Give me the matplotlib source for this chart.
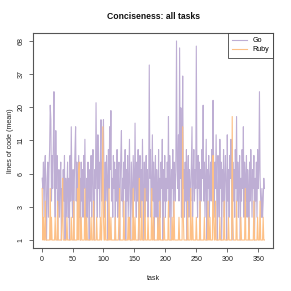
import numpy as np
import matplotlib
matplotlib.use("Agg")
import matplotlib.pyplot as plt

plt.rcParams['font.family'] = ['Liberation Sans', 'DejaVu Sans']

title = "Conciseness: all tasks"
xlabel = "task"
ylabel = "lines of code (mean)"
series_names = ["Go", "Ruby"]
colors = ["#BEAED4", "#FDC086"]
x_ticks = [0, 50, 100, 150, 200, 250, 300, 350]

go = [
    5, 4, 7, 2, 6, 8, 3, 1, 5, 7,
    2, 6, 9, 21, 16, 3, 8, 4, 10, 27,
    5, 2, 13, 4, 8, 1, 3, 6, 2, 5,
    7, 1, 4, 2, 6, 3, 8, 1, 5, 2,
    4, 7, 2, 5, 1, 8, 3, 14, 4, 2,
    6, 1, 5, 9, 14, 3, 7, 2, 4, 8,
    2, 5, 1, 7, 3, 6, 2, 8, 4, 11,
    3, 1, 5, 2, 7, 4, 1, 6, 3, 8,
    2, 5, 9, 3, 1, 6, 4, 22, 5, 2,
    12, 4, 7, 2, 8, 16, 3, 6, 9, 16,
    4, 2, 7, 3, 8, 5, 1, 9, 4, 14,
    6, 19, 3, 5, 2, 8, 4, 7, 1, 6,
    3, 9, 2, 5, 7, 1, 4, 8, 13, 3,
    5, 2, 7, 4, 9, 1, 6, 3, 8, 2,
    5, 11, 3, 1, 7, 4, 2, 8, 5, 3,
    15, 4, 2, 7, 3, 9, 1, 5, 8, 2,
    6, 3, 11, 4, 1, 7, 2, 5, 8, 3,
    6, 2, 4, 44, 5, 9, 2, 4, 12, 3,
    7, 1, 5, 8, 2, 6, 4, 1, 9, 3,
    5, 2, 7, 4, 11, 1, 6, 3, 8, 2,
    5, 3, 7, 4, 17, 2, 8, 5, 1, 6,
    4, 9, 2, 7, 5, 3, 8, 68, 6, 4,
    12, 3, 60, 5, 20, 2, 8, 36, 4, 6,
    2, 7, 3, 9, 1, 5, 8, 2, 6, 4,
    3, 7, 14, 2, 5, 9, 3, 6, 4, 62,
    5, 2, 8, 4, 7, 1, 6, 3, 9, 5,
    21, 3, 7, 2, 5, 11, 1, 6, 4, 8,
    2, 5, 7, 3, 9, 4, 23, 6, 2, 7,
    4, 12, 3, 1, 8, 5, 2, 11, 4, 7,
    1, 6, 3, 9, 2, 5, 8, 4, 1, 12,
    3, 6, 2, 8, 5, 11, 4, 1, 7, 3,
    6, 2, 9, 4, 17, 3, 7, 2, 5, 8,
    1, 5, 3, 9, 4, 14, 2, 7, 5, 3,
    8, 2, 6, 4, 1, 7, 3, 9, 5, 2,
    6, 4, 8, 1, 5, 3, 7, 2, 9, 4,
    6, 27, 5, 3, 2, 4, 2, 3, 5, 4,
]

ruby = [
    4, 1, 2, 1, 1, 3, 1, 1, 1, 1,
    1, 1, 1, 4, 1, 2, 1, 1, 1, 1,
    1, 2, 1, 1, 1, 3, 1, 1, 1, 1,
    1, 1, 2, 5, 1, 1, 1, 1, 1, 1,
    2, 1, 1, 1, 1, 1, 1, 2, 1, 1,
    1, 3, 1, 1, 1, 1, 1, 4, 1, 6,
    7, 1, 1, 2, 1, 1, 1, 1, 1, 4,
    1, 1, 2, 1, 1, 1, 1, 1, 1, 2,
    1, 1, 1, 3, 1, 1, 1, 1, 2, 1,
    1, 1, 1, 1, 2, 1, 1, 5, 14, 2,
    1, 1, 3, 1, 1, 1, 1, 1, 4, 1,
    1, 2, 1, 1, 1, 1, 1, 1, 2, 1,
    1, 1, 1, 1, 2, 4, 1, 1, 1, 1,
    1, 1, 3, 1, 1, 1, 1, 1, 1, 2,
    1, 2, 1, 1, 1, 1, 1, 4, 1, 1,
    2, 1, 1, 1, 1, 1, 2, 5, 1, 1,
    1, 3, 1, 1, 1, 1, 4, 1, 1, 1,
    1, 2, 1, 1, 1, 1, 1, 4, 1, 1,
    2, 1, 1, 1, 1, 1, 1, 2, 1, 1,
    3, 1, 1, 1, 1, 1, 1, 2, 1, 1,
    1, 1, 1, 1, 3, 1, 1, 1, 1, 1,
    2, 1, 1, 3, 1, 1, 1, 1, 1, 1,
    1, 2, 1, 1, 1, 1, 1, 14, 2, 1,
    1, 1, 1, 1, 1, 3, 1, 1, 1, 1,
    4, 1, 1, 2, 1, 1, 1, 1, 1, 2,
    1, 1, 1, 1, 1, 3, 1, 1, 1, 1,
    1, 1, 2, 1, 1, 1, 1, 1, 3, 1,
    1, 2, 1, 1, 1, 1, 8, 2, 1, 1,
    3, 1, 1, 1, 1, 1, 1, 2, 1, 1,
    1, 1, 1, 1, 3, 1, 1, 1, 1, 1,
    1, 2, 1, 1, 1, 1, 1, 17, 2, 1,
    1, 1, 1, 1, 3, 1, 1, 1, 1, 1,
    1, 2, 1, 1, 1, 1, 1, 1, 4, 1,
    1, 1, 1, 1, 2, 1, 1, 1, 1, 1,
    1, 1, 3, 1, 1, 1, 1, 1, 2, 1,
    1, 1, 3, 1, 1, 1, 1, 2, 1, 1,
]

go = np.array(go, dtype=float)
ruby = np.array(ruby, dtype=float)
tasks = np.arange(1, len(go) + 1)

fwd = lambda v: np.log(np.asarray(v, dtype=float) + 1)
inv = lambda t: np.exp(t) - 1

fig = plt.figure(figsize=(2.91, 2.91), dpi=100)
ax = fig.add_axes([33.3 / 291, 1 - 248 / 291, (273.3 - 33.3) / 291, (248 - 33) / 291])
ax.set_yscale('function', functions=(fwd, inv))

ax.plot(tasks, go, color=colors[0], lw=0.8, label=series_names[0])
ax.plot(tasks, ruby, color=colors[1], lw=0.8, label=series_names[1])

allv = np.concatenate([go, ruby])
tmin, tmax = fwd(allv.min()), fwd(allv.max())
pad = 0.04 * (tmax - tmin)
ax.set_ylim(inv(tmin - pad), inv(tmax + pad))
yt = inv(np.linspace(tmin, tmax, 7))
ax.set_yticks(yt)
ax.set_yticklabels([str(int(round(v))) for v in yt], rotation=90, va='center')
ax.yaxis.set_minor_locator(matplotlib.ticker.NullLocator())

xr = tasks.max() - tasks.min()
ax.set_xlim(tasks.min() - 0.04 * xr, tasks.max() + 0.04 * xr)
ax.set_xticks(x_ticks)

fs = 5.1
for s in ax.spines.values():
    s.set_color('#555555')
    s.set_linewidth(0.8)
ax.tick_params(axis='both', length=2.6, width=0.6, color='#555555', labelsize=fs, labelcolor='#222222')
ax.tick_params(axis='x', pad=3.0)
ax.tick_params(axis='y', pad=3.4)

ax.set_xlabel(xlabel, fontsize=fs, color='#222222', labelpad=9)
ax.set_ylabel(ylabel, fontsize=fs, color='#222222', labelpad=3)
ax.set_title(title, fontsize=6.2, fontweight='bold', color='#111111', pad=10)

leg = ax.legend(loc='upper right', borderaxespad=0, fontsize=fs, fancybox=False,
                handlelength=2.2, handletextpad=0.7, borderpad=0.6, labelspacing=0.3)
leg.get_frame().set_edgecolor('#333333')
leg.get_frame().set_linewidth(0.7)

fig.savefig("out.png", dpi=100)
